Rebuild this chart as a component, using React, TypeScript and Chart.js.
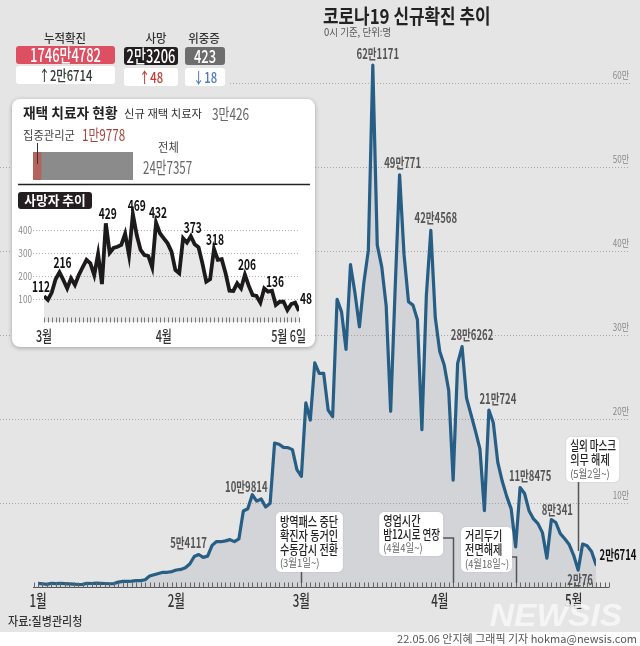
import React, { useEffect, useRef } from 'react';
import { Chart, registerables } from 'chart.js';
Chart.register(...registerables);

// ---------------- data ----------------
const janCases = [4416,3833,3129,4443,4126,4444,4024,3717,3376,3005,3094,4388,4167,4542,4419,4194,3857,4071,5805,6603,6769,7009,7630,7513,8571,13012,14518,16096,17542,17528,18342];
const febCases = [20270,20908,22907,27443,36362,38691,35286,36717,49567,54117,53926,54941,56431,53969,57177,90443,93135,109814,102211,104829,95362,99573,171452,170016,166209,165890,163565,139626];
const marCases = [131629,219241,198803,266853,254327,254256,210716,202721,342446,327549,282987,383665,350190,309790,362338,400741,621171,407017,381454,334708,209169,353980,490771,395598,339514,335580,318130,187213,347554,424568,320743];
const aprCases = [280273,264171,234301,127190,266135,286262,224820,205333,185566,164481,90928,210724,195419,148443,125846,107916,93001,47743,118475,111319,90867,81058,75449,64725,34370,80341,76787,63564,57464,50568];
const mayCases = [37771,20076,51131,49064,42296,26714];

const monthLabels = ['1월', '2월', '3월', '4월', '5월'];
const monthStartDays = [0, 31, 59, 90, 120];
const yTickValues = [100000, 200000, 300000, 400000, 500000, 600000];
const yTickLabels = ['10만', '20만', '30만', '40만', '50만', '60만'];
const peakDays = [40, 48, 75, 81, 88, 95, 101, 108, 115, 121, 125];

const policyDays = [59, 93, 107, 121];
const policyTexts = [
  ['방역패스 중단', '확진자 동거인', '수동감시 전환', '(3월1일~)'],
  ['영업시간', '밤12시로 연장', '(4월4일~)'],
  ['거리두기', '전면해제', '(4월18일~)'],
  ['실외 마스크', '의무 해제', '(5월2일~)'],
];

const statLabels = ['누적확진', '사망', '위중증'];
const statTotals = ['1746만4782', '2만3206', '423'];
const statChanges = ['↑2만6714', '↑48', '↓18'];

const homeCareNew = 30426;
const homeCareIntensive = 19778;
const homeCareTotal = 247357;

const deathValues = [112,96,128,186,216,183,146,190,161,204,238,270,255,204,296,165,429,301,322,327,335,384,291,469,378,313,291,287,238,432,386,364,342,306,226,212,364,345,373,338,325,255,175,186,318,270,273,212,136,135,168,146,206,157,117,113,84,146,132,136,74,88,88,52,78,84,48];
const deathLabelDays = [0, 4, 16, 23, 29, 38, 44, 52, 59, 66];
const deathTickValues = [100, 200, 300, 400];
const deathAxisDays = [0, 31, 66];
const deathAxisLabels = ['3월', '4월', '5월 6일'];

const dailyCases = [...janCases, ...febCases, ...marCases, ...aprCases, ...mayCases];

// ---------------- layout / style ----------------
const FONT = '"Noto Sans CJK KR", "Noto Sans", sans-serif';
const peakOffsets = [[-28, 1], [-6, -8], [5, -12], [3, -12], [5, -13], [10, -12], [9, -11], [10, -12], [6, -10], [2, 10], [22, -10]];
const policyLayout = [
  { anchor: 'left', dx: -25.5, top: 512, w: 67, h: 60, conn: 'down', cy: 0, end: 583 },
  { anchor: 'right', dx: -10, top: 512, w: 64, h: 44, conn: 'side', cy: 538, end: 583 },
  { anchor: 'right', dx: -3.6, top: 527, w: 51, h: 45, conn: 'side', cy: 557, end: 583 },
  { anchor: 'left', dx: -12, top: 437, w: 53, h: 45, conn: 'down', cy: 0, end: 551 },
];
const deathLabelOffsets = [[-3, -10], [3, -10], [2, -10], [4, -9], [2, -10], [2, -9], [1, -10], [2, -10], [3, -9], [7, -13]];

type Ctx = CanvasRenderingContext2D;

function fmtMan(n: number): string {
  const m = Math.floor(n / 10000);
  const r = n % 10000;
  return m > 0 ? `${m}만${r}` : `${r}`;
}

function txt(ctx: Ctx, s: string, x: number, y: number, size: number, color: string,
  align: 'left' | 'center' | 'right' = 'left', sx = 1, weight = 'normal', extra = '', family = FONT, maxW = 0) {
  ctx.save();
  ctx.font = `${extra} ${weight} ${size}px ${family}`;
  ctx.fillStyle = color;
  ctx.textBaseline = 'middle';
  ctx.textAlign = 'left';
  let k = sx;
  const raw = ctx.measureText(s).width;
  if (maxW > 0 && raw * k > maxW) k = maxW / raw;
  const w = raw * k;
  const left = align === 'center' ? x - w / 2 : align === 'right' ? x - w : x;
  ctx.translate(left, y);
  ctx.scale(k, 1);
  ctx.fillText(s, 0, 0);
  ctx.restore();
}

function rr(ctx: Ctx, x: number, y: number, w: number, h: number, r: number) {
  ctx.beginPath();
  ctx.moveTo(x + r, y);
  ctx.arcTo(x + w, y, x + w, y + h, r);
  ctx.arcTo(x + w, y + h, x, y + h, r);
  ctx.arcTo(x, y + h, x, y, r);
  ctx.arcTo(x, y, x + w, y, r);
  ctx.closePath();
}
function fillRR(ctx: Ctx, x: number, y: number, w: number, h: number, r: number, color: string) {
  ctx.save();
  ctx.fillStyle = color;
  rr(ctx, x, y, w, h, r);
  ctx.fill();
  ctx.restore();
}
function dotted(ctx: Ctx, x1: number, x2: number, y: number, color: string) {
  ctx.save();
  ctx.strokeStyle = color;
  ctx.lineWidth = 1;
  ctx.setLineDash([1, 2]);
  ctx.beginPath();
  ctx.moveTo(x1, y);
  ctx.lineTo(x2, y);
  ctx.stroke();
  ctx.restore();
}
function poly(ctx: Ctx, pts: number[][], color: string, w: number) {
  ctx.save();
  ctx.strokeStyle = color;
  ctx.lineWidth = w;
  ctx.beginPath();
  pts.forEach((p, i) => (i === 0 ? ctx.moveTo(p[0], p[1]) : ctx.lineTo(p[0], p[1])));
  ctx.stroke();
  ctx.restore();
}

function drawHeader(ctx: Ctx) {
  const boxes = [
    { cx: 65.5, lx: 65, x: 16, w: 99, y1: 46, y2: 66, color: '#dc5062', chg: '#2f3b33' },
    { cx: 151, lx: 156, x: 124, w: 54, y1: 47, y2: 68, color: '#231f20', chg: '#c23b2e' },
    { cx: 205, lx: 204, x: 185, w: 40, y1: 47, y2: 68, color: '#6d6d6d', chg: '#4a78c0' },
  ];
  boxes.forEach((b, i) => {
    txt(ctx, statLabels[i], b.lx, 38, 12, '#333', 'center', 0.95, '500');
    fillRR(ctx, b.x, b.y1, b.w, 18, 3, b.color);
    txt(ctx, statTotals[i], b.cx, b.y1 + 9.5, 18, '#fff', 'center', 0.72, '500');
    fillRR(ctx, b.x, b.y2, b.w, 18, 3, '#ffffff');
    txt(ctx, statChanges[i], b.cx, b.y2 + 9.5, 15, b.chg, 'center', 0.75, '500');
  });
  txt(ctx, '코로나19 신규확진 추이', 323, 16, 20, '#222', 'left', 0.845, 'bold');
  txt(ctx, '0시 기준, 단위:명', 324, 32, 10, '#555', 'left', 0.95);
}

// ---------------- main chart plugin ----------------
const mainPlugin = {
  id: 'mainDecor',
  beforeDraw(chart: any) {
    const ctx: Ctx = chart.ctx;
    ctx.save();
    ctx.fillStyle = '#e5e5e5';
    ctx.fillRect(0, 0, 640, 632);
    ctx.fillStyle = '#ffffff';
    ctx.fillRect(0, 632, 640, 14);
    ctx.restore();
    drawHeader(ctx);
  },
  beforeDatasetsDraw(chart: any) {
    const ctx: Ctx = chart.ctx;
    const ys = chart.scales.y;
    yTickValues.forEach((v, i) => {
      const py = Math.round(ys.getPixelForValue(v)) + 0.5;
      dotted(ctx, i === yTickValues.length - 1 ? 230 : 0, 630, py, '#a9a9a9');
      txt(ctx, yTickLabels[i], 629, py - 8, 10, '#8a8a8a', 'right', 0.8);
    });
  },
  afterDatasetsDraw(chart: any) {
    const ctx: Ctx = chart.ctx;
    const xs = chart.scales.x;
    const ys = chart.scales.y;
    const y0 = Math.round(ys.getPixelForValue(0)) + 0.5;
    poly(ctx, [[33, y0], [609, y0]], '#555', 1);
    ctx.save();
    ctx.strokeStyle = '#666';
    ctx.lineWidth = 1;
    ctx.beginPath();
    for (let d = -1; d <= 128; d++) {
      const px = Math.round(xs.getPixelForValue(d)) + 0.5;
      ctx.moveTo(px, y0 - 5);
      ctx.lineTo(px, y0);
    }
    ctx.stroke();
    ctx.restore();
    monthStartDays.forEach((d, i) => {
      txt(ctx, monthLabels[i], xs.getPixelForValue(d), y0 + 13, 17, '#333', 'center', 0.68, '500');
    });
    policyDays.forEach((d, i) => {
      const L = policyLayout[i];
      const px = xs.getPixelForValue(d);
      const left = L.anchor === 'left' ? px + L.dx : px + L.dx - L.w;
      const right = left + L.w;
      ctx.save();
      ctx.shadowColor = 'rgba(0,0,0,0.12)';
      ctx.shadowBlur = 2;
      fillRR(ctx, left, L.top, L.w, L.h, 5, '#ffffff');
      ctx.restore();
      const lx = Math.round(px) + 0.5;
      if (L.conn === 'down') {
        poly(ctx, [[lx, L.top + L.h], [lx, L.end]], '#555', 1.5);
      } else {
        poly(ctx, [[right, L.cy], [lx, L.cy], [lx, L.end]], '#555', 1.5);
      }
      const lines = policyTexts[i];
      const n = lines.length;
      const first = L.top + L.h / 2 - ((n - 1) * 14) / 2;
      lines.forEach((s, j) => {
        const last = j === n - 1;
        txt(ctx, s, left + 4, first + j * 14, last ? 11 : 13, last ? '#666' : '#222', 'left',
          last ? 0.86 : 0.78, last ? 'normal' : '500', '', FONT, L.w - 7);
      });
    });
    peakDays.forEach((d, i) => {
      const px = xs.getPixelForValue(d);
      const py = ys.getPixelForValue(dailyCases[d]);
      const last = i === peakDays.length - 1;
      txt(ctx, fmtMan(dailyCases[d]), px + peakOffsets[i][0], py + peakOffsets[i][1], 14,
        last ? '#111' : '#555', 'center', 0.68, 'bold');
    });
  },
  afterDraw(chart: any) {
    const ctx: Ctx = chart.ctx;
    txt(ctx, '자료:질병관리청', 8, 621, 12, '#333', 'left', 0.92, '500');
    txt(ctx, '22.05.06 안지혜 그래픽 기자 hokma@newsis.com', 637, 639, 11, '#555', 'right', 1.0);
    ctx.save();
    ctx.globalAlpha = 0.85;
    txt(ctx, 'NEWSIS', 556, 617, 32, '#f8f8f8', 'center', 1.05, 'bold', 'italic', '"Liberation Sans", Arial, sans-serif');
    ctx.restore();
  },
};

// ---------------- death chart plugin ----------------
const deathPlugin = {
  id: 'deathDecor',
  beforeDraw(chart: any) {
    const ctx: Ctx = chart.ctx;
    ctx.save();
    ctx.shadowColor = 'rgba(0,0,0,0.3)';
    ctx.shadowBlur = 4;
    ctx.shadowOffsetY = 1;
    fillRR(ctx, 12, 99, 303, 248, 8, '#ffffff');
    ctx.restore();
    txt(ctx, '재택 치료자 현황', 23, 113, 14, '#222', 'left', 0.98, 'bold');
    txt(ctx, '신규 재택 치료자', 124, 114, 11, '#333', 'left', 1.03);
    txt(ctx, fmtMan(homeCareNew), 212, 114, 16, '#666', 'left', 0.74);
    txt(ctx, '집중관리군', 23, 135, 12, '#444', 'left', 0.94);
    txt(ctx, fmtMan(homeCareIntensive), 82, 135, 16, '#a4463f', 'left', 0.73);
    txt(ctx, '전체', 158, 147, 12, '#444', 'left', 0.94);
    txt(ctx, fmtMan(homeCareTotal), 143, 168, 17, '#666', 'left', 0.68);
    poly(ctx, [[18, 184.5], [310, 184.5]], '#222', 1.5);
    fillRR(ctx, 18, 192, 74, 17, 3, '#231f20');
    txt(ctx, '사망자 추이', 55, 200.5, 13, '#fff', 'center', 0.98, 'bold');
  },
  beforeDatasetsDraw(chart: any) {
    const ctx: Ctx = chart.ctx;
    const ys = chart.scales.y;
    deathTickValues.forEach((v) => {
      const py = Math.round(ys.getPixelForValue(v)) + 0.5;
      dotted(ctx, 33, 300, py, '#b0b0b0');
      txt(ctx, String(v), 32, py, 10, '#8a8a8a', 'right', 0.82);
    });
  },
  afterDatasetsDraw(chart: any) {
    const ctx: Ctx = chart.ctx;
    const xs = chart.scales.x;
    const ys = chart.scales.y;
    const y0 = Math.round(ys.getPixelForValue(0)) + 0.5;
    ctx.save();
    ctx.strokeStyle = '#777';
    ctx.lineWidth = 1;
    ctx.beginPath();
    for (let d = 0; d <= 66; d++) {
      const px = Math.round(xs.getPixelForValue(d)) + 0.5;
      ctx.moveTo(px, y0 - 5);
      ctx.lineTo(px, y0);
    }
    ctx.stroke();
    ctx.restore();
    deathAxisDays.forEach((d, i) => {
      const px = xs.getPixelForValue(d);
      const last = i === deathAxisDays.length - 1;
      txt(ctx, deathAxisLabels[i], last ? px + 7 : px, y0 + 13, 16, '#333', last ? 'right' : 'center', 0.68, '500');
    });
    deathLabelDays.forEach((d, i) => {
      const px = xs.getPixelForValue(d);
      const py = ys.getPixelForValue(deathValues[d]);
      txt(ctx, String(deathValues[d]), px + deathLabelOffsets[i][0], py + deathLabelOffsets[i][1], 15, '#111', 'center', 0.68, 'bold');
    });
  },
};

export default function App() {
  const mainRef = useRef<HTMLCanvasElement>(null);
  const deathRef = useRef<HTMLCanvasElement>(null);
  const barRef = useRef<HTMLCanvasElement>(null);

  useEffect(() => {
    document.body.style.margin = '0';
    const charts: Chart[] = [];

    charts.push(new Chart(mainRef.current as HTMLCanvasElement, {
      type: 'line',
      data: {
        datasets: [{
          data: dailyCases.map((v, i) => ({ x: i, y: v })),
          borderColor: '#265e85',
          borderWidth: 3.2,
          backgroundColor: 'rgba(100,115,140,0.14)',
          fill: 'origin',
          pointRadius: 0,
          tension: 0,
          borderJoinStyle: 'round',
          borderCapStyle: 'round',
        }],
      },
      options: {
        animation: false,
        responsive: false,
        devicePixelRatio: 1,
        events: [],
        layout: { padding: { left: 38, right: 44, top: 41, bottom: 59 } },
        scales: {
          x: { type: 'linear', min: 0, max: 125, display: false },
          y: { type: 'linear', min: 0, max: 650000, display: false },
        },
        plugins: { legend: { display: false }, tooltip: { enabled: false } },
      },
      plugins: [mainPlugin],
    } as any));

    charts.push(new Chart(deathRef.current as HTMLCanvasElement, {
      type: 'line',
      data: {
        datasets: [{
          data: deathValues.map((v, i) => ({ x: i, y: v })),
          borderColor: '#1c1a1a',
          borderWidth: 3.8,
          backgroundColor: 'rgba(0,0,0,0.09)',
          fill: 'origin',
          pointRadius: 0,
          tension: 0,
        }],
      },
      options: {
        animation: false,
        responsive: false,
        devicePixelRatio: 1,
        events: [],
        layout: { padding: { left: 44, right: 341, top: 207, bottom: 324 } },
        scales: {
          x: { type: 'linear', min: 0, max: 66, display: false },
          y: { type: 'linear', min: 0, max: 500, display: false },
        },
        plugins: { legend: { display: false }, tooltip: { enabled: false } },
      },
      plugins: [deathPlugin],
    } as any));

    charts.push(new Chart(barRef.current as HTMLCanvasElement, {
      type: 'bar',
      data: {
        labels: ['재택치료'],
        datasets: [
          { data: [homeCareIntensive], backgroundColor: '#b4625b', grouped: false, barPercentage: 1, categoryPercentage: 1 },
          { data: [homeCareTotal], backgroundColor: '#8b8b8b', grouped: false, barPercentage: 1, categoryPercentage: 1 },
        ],
      },
      options: {
        indexAxis: 'y',
        animation: false,
        responsive: false,
        devicePixelRatio: 1,
        events: [],
        layout: { padding: { top: 12, left: 0, right: 0, bottom: 0 } },
        scales: {
          x: { min: 0, max: homeCareTotal, display: false },
          y: { display: false },
        },
        plugins: { legend: { display: false }, tooltip: { enabled: false } },
      },
      plugins: [{
        id: 'marker',
        afterDatasetsDraw(chart: any) {
          const ctx: Ctx = chart.ctx;
          const px = Math.round(chart.scales.x.getPixelForValue(homeCareIntensive / 2)) + 0.5;
          poly(ctx, [[px, 3], [px, 24]], '#333', 1);
        },
      }],
    } as any));

    return () => charts.forEach((c) => c.destroy());
  }, []);

  return (
    <div style={{ position: 'relative', width: 640, height: 646, overflow: 'hidden' }}>
      <canvas ref={mainRef} width={640} height={646} style={{ position: 'absolute', left: 0, top: 0 }} />
      <canvas ref={deathRef} width={640} height={646} style={{ position: 'absolute', left: 0, top: 0 }} />
      <canvas ref={barRef} width={100} height={40} style={{ position: 'absolute', left: 33, top: 140 }} />
    </div>
  );
}
